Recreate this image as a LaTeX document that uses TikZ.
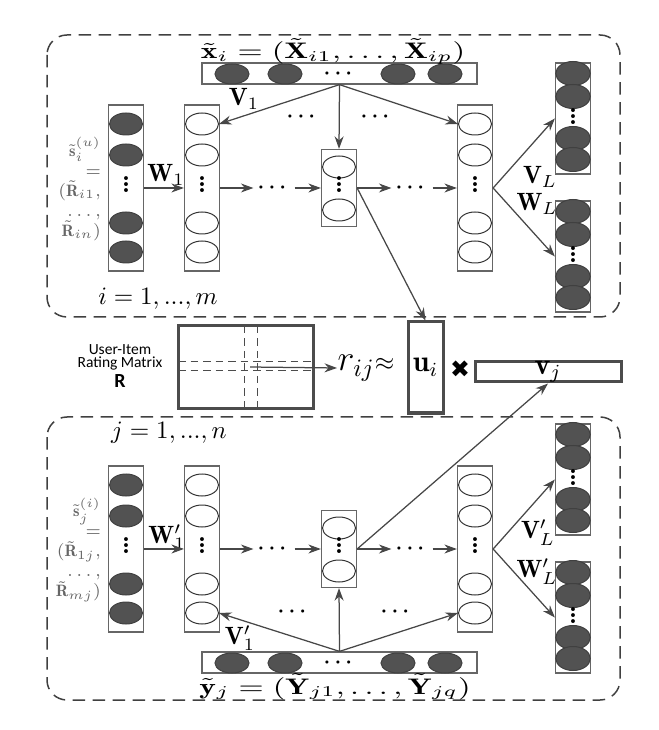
\documentclass[tikz,border=0pt]{standalone}
\usepackage{amsmath}
\usepackage{amssymb}
\usepackage{bm}
\usepackage{fontspec}
\newfontfamily\uifont{Carlito}
\newfontfamily\symfont{DejaVu Sans}
\usetikzlibrary{positioning,arrows.meta,shapes.geometric,calc}
\newcommand{\coldots}{\vbox{\baselineskip2.4pt\lineskiplimit0pt\hbox{\bfseries.}\hbox{\bfseries.}\hbox{\bfseries.}}}

\begin{document}
\begin{tikzpicture}[
  x=0.4pt, y=-0.4pt,
  >={Stealth[length=5pt,width=3.6pt]},
  every node/.style={align=center, inner sep=1pt},
  layer/.style={draw=black!60, line width=0.5pt, minimum width=14pt, inner sep=0pt},
  full/.style={ellipse, draw=black!75, fill=black!68, minimum width=13.2pt, minimum height=8.8pt, inner sep=0pt},
  hollow/.style={ellipse, draw=black!80, fill=white, line width=0.4pt, minimum width=13.2pt, minimum height=8.8pt, inner sep=0pt},
  outc/.style={full, minimum width=13.8pt, minimum height=9.6pt},
  bar/.style={draw=black!60, line width=0.5pt, minimum width=110pt, minimum height=8.4pt, inner sep=0pt},
  barc/.style={full, minimum width=13.6pt, minimum height=8pt},
  vdot/.style={inner sep=0pt, yshift=1.2pt},
  hdot/.style={font=\footnotesize\boldmath, inner sep=1.5pt},
  vecbox/.style={draw=black!70, line width=1.2pt, inner sep=0pt},
  wlab/.style={inner sep=0pt},
  side/.style={font=\fontsize{6.6}{8}\selectfont, text=black!60, align=right, anchor=east},
  vlab/.style={font=\small, xscale=1.4, anchor=base},
  e/.style={->, draw=black!72, line width=0.5pt},
  region/.style={draw=black!75, dash pattern=on 5pt off 3pt, rounded corners=8pt, line width=0.6pt}
]
\useasboundingbox (0,0) rectangle (658,730);

% dashed regions for users (top) and items (bottom)
\draw[region] (47,35) rectangle (620,317);
\draw[region] (47,417) rectangle (620,700);

% the two autoencoder stacks
\foreach \p/\cy in {u/188,v/549}{
  \foreach \n/\x/\s in {S/126/full,H1/202/hollow,HL/475/hollow}{
    \node[layer, minimum height=66.4pt] (\p-\n) at (\x,\cy) {};
    \foreach \dy/\k in {-64/1,-33/2,35/4,64/5}
      \node[\s] (\p-\n-\k) at (\x,{\cy+(\dy)}) {};
    \node[vdot] at (\x,\cy) {\coldots};
  }
  \node[layer, minimum height=30.8pt] (\p-M) at (339,\cy) {};
  \node[hollow] (\p-M-1) at (339,{\cy-21}) {};
  \node[hollow] (\p-M-2) at (339,{\cy+22}) {};
  \node[vdot] at (339,\cy) {\coldots};
  \foreach \n/\oy in {OV/-69.5,OW/68.5}{
    \node[layer, minimum height=44.4pt] (\p-\n) at (573,{\cy+(\oy)}) {};
    \foreach \dy/\k in {-45/1,-22/2,20/4,41/5}
      \node[outc] (\p-\n-\k) at (573,{\cy+(\oy)+(\dy)}) {};
    \node[vdot] at (573,{\cy+(\oy)+1}) {\coldots};
  }
  \node[hdot] (\p-dA) at (274,\cy) {$\cdots$};
  \node[hdot] (\p-dB) at (412,\cy) {$\cdots$};
}

% side information bars
\node[bar] (X) at (339.5,73.5) {};
\node[bar] (Y) at (339.5,662.5) {};
\foreach \b/\y in {X/74,Y/663}{
  \foreach \x/\k in {232/1,285/2,398/4,445/5}
    \node[barc] (\b-\k) at (\x,\y) {};
  \node[hdot] at (340,\y) {$\cdots$};
}
\node[vlab] (xlab) at (333,59) {$\tilde{\mathbf{x}}_i = (\tilde{\mathbf{X}}_{i1}, \ldots, \tilde{\mathbf{X}}_{ip})$};
\node[vlab] (ylab) at (335,694) {$\tilde{\mathbf{y}}_j = (\tilde{\mathbf{Y}}_{j1}, \ldots, \tilde{\mathbf{Y}}_{jq})$};
\node[hdot] at (303,117) {$\cdots$};
\node[hdot] at (377,117) {$\cdots$};
\node[hdot] at (294,612) {$\cdots$};
\node[hdot] at (397,612) {$\cdots$};

% input labels
\node[side] (su) at (104,189) {$\tilde{\mathbf{s}}_i^{(u)}$\\$=$\\$(\tilde{\mathbf{R}}_{i1},$\\$\ldots,$\\$\tilde{\mathbf{R}}_{in})$};
\node[side] (sv) at (104,550) {$\tilde{\mathbf{s}}_j^{(i)}$\\$=$\\$(\tilde{\mathbf{R}}_{1j},$\\$\ldots,$\\$\tilde{\mathbf{R}}_{mj})$};
\node (ri) at (158,299) {$i = 1, ..., m$};
\node (rj) at (169,433) {$j = 1, ..., n$};

% rating matrix and factors
\node[vecbox, minimum width=54pt, minimum height=33.2pt] (R) at (245.5,367.5) {};
\draw[densely dashed, black!70, line width=0.4pt] (244,326) -- (244,409) (257,326) -- (257,409)
  (178,362) -- (313,362) (178,371) -- (313,371);
\coordinate (Rc) at (250,367);
\node[font=\uifont\fontsize{6.2}{5.2}\selectfont] (Rlab) at (120,366) {User-Item\\Rating Matrix\\[1pt]{\fontsize{8}{8}\selectfont\bfseries R}};
\node[anchor=west, inner sep=0pt] (rij) at (337,368) {{\Large$r_{ij}$}$\approx$};
\node[vecbox, minimum width=14pt, minimum height=36.4pt] (U) at (425.5,367.5) {};
\node[font=\large] at (U) {$\mathbf{u}_i$};
\node[font=\symfont\fontsize{9.5}{9.5}\selectfont] (times) at (460,369) {✖};
\node[vecbox, minimum width=58.4pt, minimum height=8pt] (V) at (548,372) {};
\node[font=\large] at (V) {$\mathbf{v}_j$};

% weight labels
\node[wlab] at (244,99) {$\mathbf{V}_1$};
\node[wlab] at (166,175) {$\mathbf{W}_1$};
\node[wlab] at (540,177) {$\mathbf{V}_L$};
\node[wlab] at (537,204) {$\mathbf{W}_L$};
\node[wlab] at (240,638) {$\mathbf{V}'_1$};
\node[wlab] at (167,537) {$\mathbf{W}'_1$};
\node[wlab] at (538,533) {$\mathbf{V}'_L$};
\node[wlab] at (537,572) {$\mathbf{W}'_L$};

% connections
\foreach \p in {u,v}{
  \draw[e] (\p-S) -- (\p-H1);
  \draw[e] (\p-H1) -- (\p-dA);
  \draw[e] (\p-dA) -- (\p-M);
  \draw[e] (\p-M) -- (\p-dB);
  \draw[e] (\p-dB) -- (\p-HL);
  \draw[e] (\p-HL.east) -- (\p-OV.west);
  \draw[e] (\p-HL.east) -- (\p-OW.west);
}
\draw[e] (X.south) -- (u-H1-1.east);
\draw[e] (X.south) -- (u-M.north);
\draw[e] (X.south) -- (u-HL-1.west);
\draw[e] (Y.north) -- (v-H1-5.east);
\draw[e] (Y.north) -- (v-M.south);
\draw[e] (Y.north) -- (v-HL-5.west);
\draw[e] (u-M.east) -- (U.north);
\draw[e] (v-M.east) -- (V.south);
\draw[e] (Rc) -- (rij.west);
\end{tikzpicture}
\end{document}
